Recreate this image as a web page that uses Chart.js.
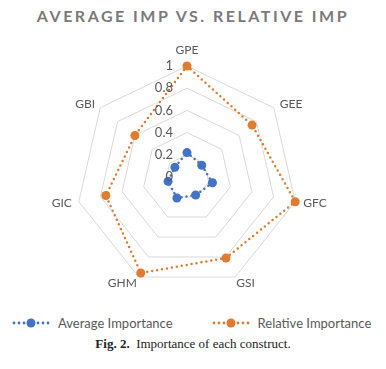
<!DOCTYPE html>
<html>
<head>
<meta charset="utf-8">
<script src="https://cdn.jsdelivr.net/npm/chart.js@4/dist/chart.umd.min.js"></script>
<style>
  body { margin: 0; background: #fff; width: 386px; height: 369px; overflow: hidden; position: relative; }
  #title { position: absolute; top: 6px; left: 0; width: 386px; text-align: center;
    font: bold 16px Lato, sans-serif; letter-spacing: 2.5px; color: #7a7a7a; }
  #wrap { position: absolute; top: 32px; left: 0; width: 386px; height: 269px; }
  #legend { position: absolute; top: 315px; left: 12px; display: flex; gap: 39px;
    font: 13px Lato, sans-serif; color: #595959; white-space: nowrap; }
  #legend .item { display: flex; align-items: center; gap: 8px; }
  #caption { position: absolute; top: 336px; left: 0; width: 386px; text-align: center;
    font: 13px "Liberation Serif", serif; color: #222; }
</style>
</head>
<body>
<div id="title">AVERAGE IMP VS. RELATIVE IMP</div>
<div id="wrap"><canvas id="radarChart" width="386" height="269"></canvas></div>
<div id="legend"></div>
<div id="caption"><b>Fig. 2.</b>&nbsp; Importance of each construct.</div>
<script>
// Constructs around the radar, clockwise from the top
const constructs = ["GPE", "GEE", "GFC", "GSI", "GHM", "GIC", "GBI"];
const averageImportance = [0.22, 0.17, 0.235, 0.18, 0.21, 0.175, 0.14];
const relativeImportance = [1.0, 0.75, 1.0, 0.81, 0.96, 0.75, 0.6];
const tickValues = [0, 0.2, 0.4, 0.6, 0.8, 1];
const tickLabels = ["0", "0.2", "0.4", "0.6", "0.8", "1"];

const BLUE = "#4472c4";
const ORANGE = "#e07b32";

// little dotted-line-with-marker images for the legend
const legendMarker = (color) => {
  const c = document.createElement("canvas");
  c.width = 38;
  c.height = 12;
  const g = c.getContext("2d");
  g.fillStyle = color;
  [2, 7, 12, 26, 31, 36].forEach((x) => {
    g.beginPath();
    g.arc(x, 6, 1.4, 0, Math.PI * 2);
    g.fill();
  });
  g.beginPath();
  g.arc(19, 6, 4.5, 0, Math.PI * 2);
  g.fill();
  return c;
};

// Excel-style labels: ticks left of the vertical axis,
// category names hugging the outer ring's corners
const labelPlugin = {
  id: "excelLabels",
  afterDatasetsDraw(chart) {
    const s = chart.scales.r;
    const ctx = chart.ctx;
    ctx.save();
    ctx.fillStyle = "#595959";

    ctx.font = "13px Lato, sans-serif";
    ctx.textAlign = "right";
    ctx.textBaseline = "middle";
    tickValues.forEach((v, i) => {
      const y = s.yCenter - s.getDistanceFromCenterForValue(v);
      ctx.fillText(tickLabels[i], s.xCenter - 14, y);
    });

    ctx.font = "12px Lato, sans-serif";
    constructs.forEach((name, i) => {
      const p = s.getPointPosition(i, s.drawingArea);
      const dx = p.x - s.xCenter;
      const dy = p.y - s.yCenter;
      let x = p.x;
      let y = p.y;
      if (Math.abs(dx) < 1) {
        ctx.textAlign = "center";
        y -= 16;
      } else if (dy < -20) {
        ctx.textAlign = dx > 0 ? "left" : "right";
        x += dx > 0 ? 6 : -5;
        y -= 4;
      } else if (dy < 40) {
        ctx.textAlign = dx > 0 ? "left" : "right";
        x += dx > 0 ? 8 : -7;
        y += 1;
      } else {
        ctx.textAlign = dx > 0 ? "left" : "right";
        x += dx > 0 ? 1 : -2;
        y += 6;
      }
      ctx.fillText(name, x, y);
    });
    ctx.restore();
  },
};

const dottedSeries = (label, data, color) => ({
  label,
  data,
  borderColor: color,
  backgroundColor: color,
  borderWidth: 2.5,
  borderDash: [0, 5],
  borderCapStyle: "round",
  fill: false,
  pointRadius: 4.5,
  pointBackgroundColor: color,
  pointBorderWidth: 0,
});

const ctx = document.getElementById("radarChart").getContext("2d");
const chart = new Chart(ctx, {
  type: "radar",
  data: {
    labels: constructs,
    datasets: [
      dottedSeries("Average Importance", averageImportance, BLUE),
      dottedSeries("Relative Importance", relativeImportance, ORANGE),
    ],
  },
  options: {
    responsive: false,
    animation: false,
    layout: { padding: { top: 34, bottom: 13, left: 0, right: 12 } },
    plugins: {
      legend: { display: false },
      tooltip: { enabled: false },
    },
    scales: {
      r: {
        min: 0,
        max: 1,
        ticks: { stepSize: 0.2, display: false },
        grid: { color: "#d9d9d9", lineWidth: 1 },
        angleLines: { display: false },
        pointLabels: { display: false },
      },
    },
  },
  plugins: [labelPlugin],
});

// legend built from the datasets
const legendEl = document.getElementById("legend");
chart.data.datasets.forEach((ds) => {
  const item = document.createElement("div");
  item.className = "item";
  item.appendChild(legendMarker(ds.borderColor));
  const txt = document.createElement("span");
  txt.textContent = ds.label;
  item.appendChild(txt);
  legendEl.appendChild(item);
});
</script>
</body>
</html>
